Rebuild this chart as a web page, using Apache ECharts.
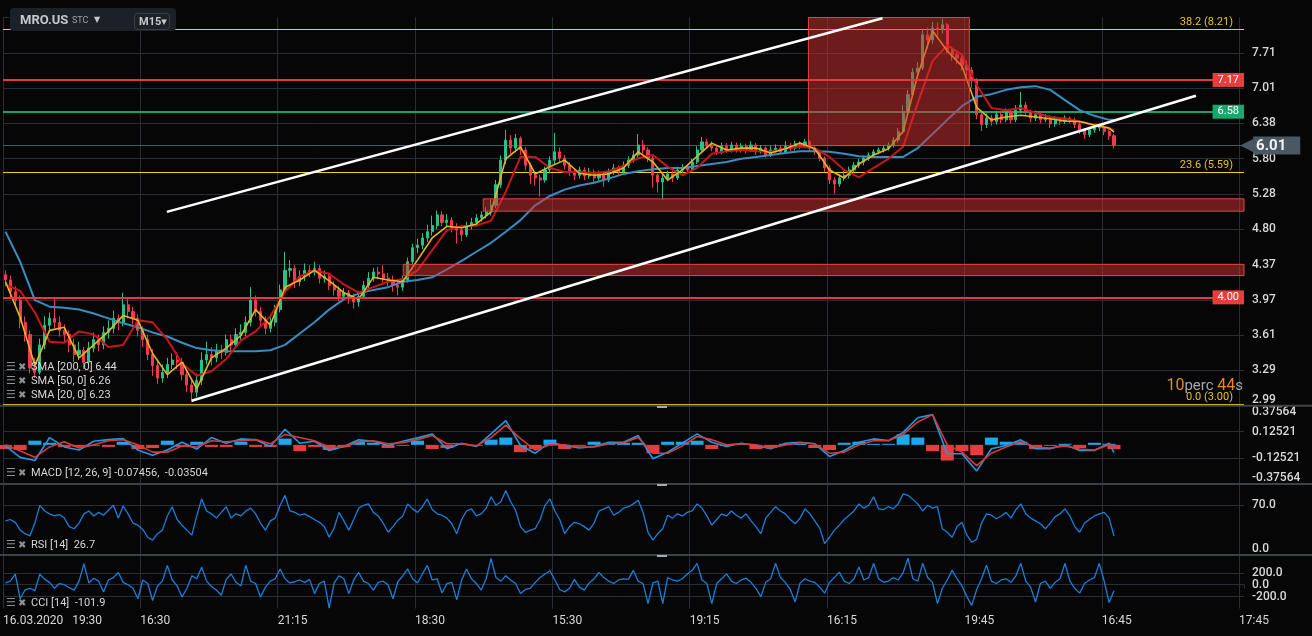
<!DOCTYPE html>
<html><head><meta charset="utf-8">
<script src="https://cdn.jsdelivr.net/npm/echarts@6/dist/echarts.min.js"></script>
<style>html,body{margin:0;padding:0;background:#060606;overflow:hidden}#c{width:1312px;height:636px}</style>
</head><body><div id="c"></div>
<script>
// ---------------- DATA ----------------
const timeLabels = ['16.03.2020   19:30','16:30','21:15','18:30','15:30','19:15','16:15','19:45','16:45','17:45'];
const priceTicks = ['2.99','3.29','3.61','3.97','4.37','4.80','5.28','5.80','6.38','7.01','7.71'];

const firstOpen = 4.25;
const closeP = [
4.19,4.06,3.97,3.74,3.62,3.31,3.27,3.52,3.71,3.78,
3.74,3.66,3.62,3.52,3.43,3.47,3.36,3.49,3.57,3.52,
3.64,3.68,3.78,3.74,3.92,3.85,3.78,3.66,3.57,3.43,
3.33,3.22,3.27,3.34,3.38,3.36,3.25,3.16,3.10,3.20,
3.38,3.43,3.40,3.47,3.45,3.57,3.52,3.62,3.64,3.74,
3.97,3.85,3.76,3.68,3.74,3.87,4.08,4.30,4.32,4.17,
4.23,4.30,4.28,4.32,4.21,4.23,4.13,4.08,4.01,4.05,
3.99,3.95,4.01,4.13,4.21,4.28,4.26,4.21,4.19,4.13,
4.11,4.19,4.40,4.57,4.60,4.69,4.77,4.85,4.99,4.89,
4.92,4.82,4.79,4.73,4.85,4.89,4.95,4.99,5.03,5.12,
5.41,5.78,6.10,5.97,6.13,5.94,5.70,5.55,5.51,5.48,
5.63,5.78,5.91,5.81,5.70,5.60,5.55,5.63,5.54,5.60,
5.51,5.57,5.48,5.60,5.66,5.60,5.70,5.78,5.86,6.02,
5.94,5.81,5.55,5.45,5.51,5.57,5.51,5.63,5.66,5.63,
5.75,5.94,6.07,6.02,5.97,5.91,6.00,5.94,6.02,5.94,
6.00,5.94,6.02,5.92,5.97,5.86,5.94,5.97,5.91,6.00,
5.97,6.04,6.00,6.07,5.97,5.91,5.81,5.66,5.48,5.42,
5.51,5.55,5.63,5.70,5.75,5.81,5.86,5.91,5.94,5.97,
6.02,6.10,6.24,6.58,6.89,7.32,7.40,8.09,7.98,8.24,
8.20,8.31,7.77,7.67,7.60,7.46,7.36,7.17,6.53,6.36,
6.47,6.41,6.53,6.44,6.58,6.44,6.61,6.70,6.58,6.47,
6.53,6.44,6.47,6.37,6.44,6.41,6.47,6.44,6.36,6.27,
6.19,6.27,6.30,6.32,6.24,6.17,6.01];
const highP = [
4.30,4.24,4.12,4.02,3.80,3.66,3.40,3.58,3.80,3.84,
3.98,3.80,3.72,3.66,3.58,3.55,3.50,3.55,3.64,3.62,
3.70,3.76,3.86,3.82,4.05,3.98,3.90,3.82,3.70,3.62,
3.48,3.38,3.34,3.40,3.44,3.45,3.40,3.28,3.20,3.26,
3.45,3.55,3.50,3.53,3.52,3.62,3.62,3.68,3.72,3.80,
4.11,4.02,3.90,3.80,3.80,3.92,4.14,4.52,4.42,4.36,
4.30,4.38,4.36,4.40,4.36,4.30,4.27,4.18,4.12,4.10,
4.08,4.04,4.07,4.18,4.28,4.33,4.34,4.36,4.27,4.24,
4.17,4.24,4.45,4.62,4.68,4.75,4.86,4.98,5.05,5.04,
5.00,4.96,4.88,4.84,4.90,4.95,5.00,5.04,5.10,5.20,
5.48,5.85,6.27,6.18,6.20,6.16,5.98,5.74,5.60,5.56,
5.68,5.84,6.22,5.98,5.86,5.75,5.64,5.68,5.67,5.66,
5.64,5.62,5.60,5.65,5.72,5.70,5.76,5.84,5.93,6.20,
6.10,5.98,5.85,5.58,5.56,5.62,5.62,5.68,5.72,5.70,
5.80,6.00,6.15,6.12,6.08,6.02,6.06,6.05,6.07,6.06,
6.05,6.04,6.08,6.05,6.02,6.00,6.00,6.03,6.02,6.08,
6.05,6.09,6.08,6.12,6.10,6.00,5.94,5.84,5.70,5.52,
5.56,5.62,5.68,5.75,5.80,5.85,5.90,5.95,5.98,6.02,
6.06,6.15,6.30,6.70,6.98,7.40,7.52,8.20,8.25,8.38,
8.36,8.45,8.35,7.84,7.72,7.66,7.55,7.42,7.20,6.58,
6.55,6.52,6.60,6.58,6.64,6.62,6.70,6.94,6.76,6.62,
6.60,6.58,6.54,6.52,6.50,6.48,6.52,6.50,6.48,6.40,
6.30,6.32,6.36,6.38,6.36,6.28,6.20];
const lowP = [
4.12,4.00,3.90,3.68,3.55,3.26,3.22,3.25,3.48,3.66,
3.68,3.60,3.55,3.45,3.36,3.38,3.30,3.33,3.45,3.46,
3.48,3.58,3.63,3.66,3.70,3.78,3.72,3.60,3.50,3.38,
3.24,3.17,3.18,3.22,3.30,3.30,3.20,3.10,3.02,3.06,
3.16,3.34,3.33,3.36,3.39,3.42,3.47,3.49,3.57,3.60,
3.70,3.80,3.70,3.62,3.64,3.70,3.84,4.05,4.22,4.10,
4.12,4.18,4.22,4.24,4.15,4.16,4.08,4.02,3.96,3.97,
3.93,3.88,3.90,3.98,4.09,4.17,4.20,4.16,4.12,4.06,
4.02,4.07,4.16,4.36,4.50,4.55,4.64,4.72,4.80,4.84,
4.84,4.76,4.62,4.65,4.70,4.80,4.84,4.90,4.94,4.98,
5.08,5.36,5.72,5.88,5.90,5.86,5.62,5.42,5.40,5.24,
5.44,5.58,5.72,5.74,5.64,5.54,5.48,5.50,5.48,5.50,
5.44,5.46,5.38,5.45,5.56,5.55,5.57,5.66,5.74,5.82,
5.88,5.75,5.37,5.30,5.20,5.46,5.45,5.48,5.58,5.57,
5.60,5.72,5.90,5.96,5.92,5.86,5.87,5.90,5.90,5.90,
5.90,5.89,5.91,5.86,5.88,5.82,5.83,5.90,5.87,5.88,
5.92,5.93,5.95,5.97,5.92,5.86,5.76,5.60,5.42,5.28,
5.38,5.47,5.50,5.60,5.66,5.70,5.77,5.82,5.87,5.90,
5.93,5.98,6.06,6.20,6.52,6.84,7.20,7.36,7.80,7.90,
8.05,8.12,7.70,7.55,7.48,7.35,7.24,7.02,6.45,6.25,
6.30,6.34,6.36,6.38,6.40,6.38,6.40,6.56,6.52,6.40,
6.42,6.38,6.40,6.30,6.32,6.35,6.37,6.38,6.30,6.20,
6.12,6.15,6.22,6.25,6.18,6.10,5.96];

// indicator sample positions (candle index)
const smaIdx = [0,3,6,9,12,15,18,21,24,27,30,33,36,39,42,45,48,51,54,57,60,63,66,69,72,75,78,81,84,87,90,93,96,99,102,105,108,111,114,117,120,123,126,129,132,135,138,141,144,147,150,153,156,159,162,165,168,171,174,177,180,183,186,189,192,195,198,201,204,207,210,213,216,219,222,225,226];
const sma20P = [
4.17,3.79,3.33,3.66,3.69,3.40,3.52,3.65,3.81,3.76,
3.44,3.25,3.36,3.13,3.40,3.49,3.61,3.87,3.71,4.11,
4.19,4.30,4.18,4.05,3.98,4.22,4.19,4.17,4.42,4.69,
4.84,4.82,4.87,5.03,5.80,5.99,5.57,5.68,5.78,5.58,
5.55,5.57,5.66,5.91,5.75,5.48,5.63,5.84,6.05,5.94,
5.97,5.97,5.89,5.96,6.05,5.96,5.63,5.51,5.72,5.86,
5.96,6.24,7.27,8.18,7.75,7.44,6.66,6.44,6.49,6.52,
6.49,6.46,6.42,6.41,6.35,6.30,6.23];
const sma50P = [
4.14,4.07,3.84,3.55,3.54,3.65,3.62,3.50,3.52,3.76,
3.74,3.57,3.35,3.24,3.28,3.39,3.56,3.65,3.80,4.06,
4.23,4.30,4.26,4.14,4.05,4.11,4.17,4.20,4.30,4.54,
4.79,4.84,4.85,4.91,5.31,5.83,5.83,5.66,5.60,5.60,
5.58,5.61,5.69,5.81,5.86,5.68,5.55,5.66,5.88,5.92,
5.94,5.92,5.91,5.96,5.99,5.97,5.83,5.63,5.52,5.66,
5.80,5.99,6.74,7.54,7.87,7.67,7.07,6.65,6.61,6.65,
6.56,6.49,6.46,6.41,6.35,6.30,6.26];
const sma200P = [
4.77,4.40,3.97,3.90,3.89,3.87,3.83,3.78,3.73,3.69,
3.64,3.60,3.54,3.49,3.47,3.46,3.46,3.46,3.47,3.52,
3.63,3.74,3.87,3.98,4.04,4.08,4.11,4.17,4.19,4.22,
4.31,4.41,4.52,4.63,4.77,4.92,5.12,5.25,5.34,5.40,
5.44,5.50,5.57,5.61,5.64,5.66,5.66,5.69,5.72,5.75,
5.80,5.83,5.86,5.89,5.92,5.92,5.91,5.88,5.84,5.83,
5.83,5.83,5.97,6.20,6.44,6.68,6.85,6.90,6.98,7.03,
7.05,6.98,6.79,6.61,6.51,6.44,6.44];
const macdV = [
-0.01,-0.12,-0.15,0.07,-0.02,-0.05,0.035,0.05,0.06,-0.05,
-0.10,-0.05,0.025,-0.04,0.07,0.016,0.057,0.048,-0.016,0.15,
0.016,0.035,-0.054,-0.016,0.048,0.035,-0.006,0.035,0.067,0.105,
-0.038,0.016,-0.016,0.105,0.232,-0.006,-0.08,0.025,-0.006,-0.029,
-0.016,0.025,0.025,0.089,-0.133,-0.07,0.016,0.105,0.025,-0.016,
0.016,-0.006,-0.038,0.016,0.025,0.01,-0.111,-0.054,0.025,0.057,
0.041,0.12,0.26,0.29,-0.086,-0.086,-0.25,-0.038,-0.006,0.048,
-0.038,-0.038,0.003,-0.054,-0.054,0.016,-0.07456];
const signalV = [
0.00,-0.06,-0.12,-0.02,0.03,-0.03,0.00,0.04,0.05,0.00,
-0.07,-0.07,-0.01,-0.02,0.04,0.03,0.04,0.05,0.01,0.10,
0.07,0.04,-0.02,-0.02,0.03,0.04,0.01,0.02,0.05,0.09,
0.01,0.01,-0.01,0.07,0.19,0.06,-0.05,0.00,0.00,-0.02,
-0.02,0.01,0.02,0.07,-0.08,-0.08,-0.01,0.08,0.05,0.00,
0.01,0.00,-0.03,0.00,0.02,0.01,-0.08,-0.07,0.00,0.04,
0.04,0.10,0.22,0.29,0.00,-0.07,-0.20,-0.08,-0.02,0.03,
-0.02,-0.03,-0.01,-0.04,-0.05,0.00,-0.03504];
const histV = [
-0.04,-0.05,0.04,0.02,-0.02,-0.02,-0.01,-0.02,0.03,-0.04,
-0.03,0.04,-0.02,0.03,-0.02,-0.02,0.03,-0.02,-0.02,0.06,
-0.06,-0.02,-0.05,-0.02,0.03,0.02,-0.03,-0.01,0.04,-0.04,
-0.03,0.01,-0.01,0.05,0.07,-0.07,-0.04,0.05,-0.04,-0.01,
0.03,0.01,0.02,0.02,-0.08,0.03,0.03,0.04,-0.04,-0.01,
0.01,-0.04,-0.03,0.01,0.01,-0.03,-0.05,0.02,0.03,0.01,
0.01,0.10,0.07,-0.06,-0.15,-0.06,-0.10,0.07,0.03,0.03,
-0.04,-0.01,0.01,-0.03,0.02,0.01,-0.04];
const rsiV = [
48,50,46,35,30,27,45,70,62,58,
55,57,52,40,37,45,58,62,55,60,
56,63,70,52,69,58,45,42,36,25,
21,30,35,55,68,50,42,35,28,55,
79,62,58,52,60,68,52,58,55,62,
66,58,45,35,48,52,70,84,62,60,
56,58,54,50,46,40,25,38,60,48,
35,50,66,70,72,60,55,45,32,40,
49,55,72,65,60,68,79,64,58,56,
52,44,30,50,62,65,55,58,66,82,
70,75,91,75,63,40,32,35,37,50,
70,79,62,50,30,40,46,44,40,35,
45,62,65,68,56,60,66,68,72,77,
60,32,21,30,37,56,52,58,55,60,
62,72,66,55,42,50,58,55,62,56,
52,58,48,40,30,52,60,68,62,58,
50,44,52,65,58,48,38,16,25,35,
42,50,56,62,72,66,70,82,65,64,
68,65,72,86,84,78,72,62,70,66,
68,37,32,25,40,46,28,18,22,45,
58,56,51,55,60,52,64,72,58,52,
48,44,37,45,54,58,65,55,40,32,
45,50,55,58,60,52,26.7];
const cciV = [
30,60,177,-236,-88,-60,-100,177,90,40,
-60,20,0,-50,-90,60,354,30,110,60,
-120,80,120,206,40,0,-60,-236,80,20,
-265,-20,60,325,80,-20,-206,-60,150,100,
295,60,-30,-90,-177,90,180,40,-20,325,
60,20,-206,-40,60,100,265,100,30,50,
80,40,90,-150,20,60,-395,30,150,100,
-150,80,206,60,20,-90,40,60,0,-236,
50,150,265,100,30,180,325,80,100,-140,
20,40,-254,80,265,100,20,-90,100,443,
120,60,150,80,20,-148,-80,-60,40,120,
180,236,80,-80,-120,-60,90,-40,-90,30,
100,206,120,60,20,80,100,90,242,60,
20,-318,30,60,-318,120,80,60,100,180,
242,360,80,20,-318,20,100,183,60,20,
80,110,40,-60,-200,40,100,360,120,40,
-80,-290,30,100,60,40,-40,-142,40,120,
212,60,20,100,300,80,120,360,100,40,
60,120,80,200,448,100,60,360,120,40,
-318,-60,80,242,100,-20,-200,-348,-80,100,
330,60,20,80,100,40,150,360,60,-40,
-290,20,60,-60,40,100,360,60,-60,-142,
20,80,120,360,60,-300,-101.9];

// drawings (x in candle-slot units, y in price)
const fibPct = [38.2, 23.6, 0.0];
const fibPrice = [8.21, 5.59, 3.00];
const redLevels = [7.17, 4.00];
const greenLevels = [6.58];
const lastPrice = 6.01;
const zoneStart = [164.2, 97.9, 81.6];
const zoneEnd = [197.0, 253, 253];
const zoneHigh = [8.48, 5.21, 4.37];
const zoneLow = [6.01, 5.04, 4.24];
const trendUpX = [33.4, 179.3], trendUpP = [5.03, 8.46];
const trendLoX = [38.47, 243.2], trendLoP = [3.03, 6.87];

// ---------------- BUILD ----------------
const SLOTS = 253, TSTEP = 28;
const R = Math.pow(7.71 / 2.99, 1 / 10);
const U = p => Math.log(p / 2.99) / Math.log(R);
const MS = 0.1252133;
const FONT = 'Roboto, "Noto Sans", "DejaVu Sans", sans-serif';
const GRID_C = '#272e35';
const LBL = '#d8d8d8';

const openP = [firstOpen].concat(closeP.slice(0, -1));
const candleData = closeP.map((c, i) => [i + 0.5, U(openP[i]), U(c), U(lowP[i]), U(highP[i])]);
const priceLine = arr => smaIdx.map((k, j) => [k + 0.5, U(arr[j])]);
const indLine = arr => smaIdx.map((k, j) => [k + 0.5, arr[j]]);
const perCandle = arr => arr.map((v, i) => [i + 0.5, v]);
const last = a => a[a.length - 1];

const grids = [
  {left: 3, right: 68, top: 17.5, height: 388.2},
  {left: 3, right: 68, top: 405.7, height: 78.3},
  {left: 3, right: 68, top: 484, height: 71},
  {left: 3, right: 68, top: 555, height: 53.5}
];

const xAxes = [0, 1, 2, 3].map(k => ({
  type: 'value', gridIndex: k, min: 0, max: SLOTS, interval: TSTEP,
  axisLine: {show: k === 3, lineStyle: {color: '#2f363e'}},
  axisTick: {show: k === 3, length: 4, lineStyle: {color: GRID_C}},
  axisLabel: {show: k === 3, align: 'left', margin: 6, color: LBL, fontSize: 12, fontFamily: FONT,
    formatter: v => (v % TSTEP === 0 && timeLabels[v / TSTEP]) ? timeLabels[v / TSTEP] : ''},
  splitLine: {show: true, showMaxLine: false, lineStyle: {color: GRID_C, width: 1}}
}));

const yLabelBase = {color: LBL, fontSize: 12, fontFamily: FONT, fontWeight: 500, margin: 8, lineHeight: 12};
const yAxes = [
  {gridIndex: 0, type: 'value', position: 'right', min: 0, max: 11, interval: 1,
    axisLine: {show: false}, axisTick: {show: true, length: 6, lineStyle: {color: GRID_C}},
    axisLabel: Object.assign({}, yLabelBase, {formatter: v => v === 0 ? priceTicks[0] + '\n' : (priceTicks[v] || '')}),
    splitLine: {show: true, showMaxLine: false, lineStyle: {color: GRID_C}}},
  {gridIndex: 1, type: 'value', position: 'right', min: -3 * MS, max: 3 * MS, interval: MS,
    axisLine: {show: false}, axisTick: {show: false},
    axisLabel: Object.assign({}, yLabelBase, {formatter: v => {
      const k = Math.round(v / MS); const s = (k * MS).toFixed(5);
      if (k === 3) return '\n' + s; if (k === -3) return s + '\n';
      if (k === 1 || k === -1) return s; return ''; }}),
    splitLine: {show: false}},
  {gridIndex: 2, type: 'value', position: 'right', min: 0, max: 100, interval: 70,
    axisLine: {show: false}, axisTick: {show: false},
    axisLabel: Object.assign({}, yLabelBase, {formatter: v => v === 0 ? '0.0\n' : (v === 70 ? '70.0' : '')}),
    splitLine: {show: true, showMinLine: false, showMaxLine: false, lineStyle: {color: GRID_C}}},
  {gridIndex: 3, type: 'value', position: 'right', min: -400, max: 500, interval: 200,
    axisLine: {show: false}, axisTick: {show: false},
    axisLabel: Object.assign({}, yLabelBase, {formatter: v => (v === 200 || v === 0 || v === -200) ? v.toFixed(1) : ''}),
    splitLine: {show: false}}
];

const noLabel = {show: false};
const gridMark = v => ({yAxis: v, lineStyle: {color: GRID_C, width: 1, type: 'solid'}, label: noLabel});

const underLines = [];
fibPct.forEach((pct, i) => underLines.push({
  yAxis: U(fibPrice[i]), lineStyle: {color: '#f0d21a', width: 1.2, type: 'solid'},
  label: {show: true, position: 'insideEndTop', distance: [11, 2], color: '#e4c51c', fontSize: 11, fontFamily: FONT,
    formatter: pct.toFixed(1) + ' (' + fibPrice[i].toFixed(2) + ')'}
}));
greenLevels.forEach(p => underLines.push({
  yAxis: U(p), lineStyle: {color: '#14a56c', width: 2, type: 'solid'},
  label: {show: true, position: 'insideEnd', distance: 0, formatter: p.toFixed(2), color: '#ffffff', fontSize: 11,
    fontFamily: FONT, backgroundColor: '#16a86f', padding: [2, 5, 1, 5]}
}));
underLines.push({
  yAxis: U(lastPrice), lineStyle: {color: '#4b5965', width: 1, type: 'solid'},
  label: {show: true, position: 'end', distance: [-4, 0], formatter: '{a|◀}{b|' + lastPrice.toFixed(2) + '}',
    rich: {a: {color: '#4a5863', fontSize: 17, fontFamily: '"DejaVu Sans"', padding: [0, 0, 0, 0]},
      b: {color: '#f2f2f2', fontSize: 15, fontWeight: 'bold', fontFamily: FONT, backgroundColor: '#4a5863',
        padding: [2, 14, 1, 3], height: 15}}}
});

const overLines = [];
redLevels.forEach(p => overLines.push({
  yAxis: U(p), lineStyle: {color: '#e53a3a', width: 2, type: 'solid'},
  label: {show: true, position: 'insideEnd', distance: 0, formatter: p.toFixed(2), color: '#ffffff', fontSize: 11,
    fontFamily: FONT, backgroundColor: '#e63d3d', padding: [2, 5, 1, 5]}
}));
[[trendUpX, trendUpP], [trendLoX, trendLoP]].forEach(([xs, ps]) => overLines.push([
  {coord: [xs[0], U(ps[0])], lineStyle: {color: '#ffffff', width: 2.5, type: 'solid'}, label: noLabel},
  {coord: [xs[1], U(ps[1])]}
]));

const zones = zoneStart.map((x0, i) => [{xAxis: x0, yAxis: U(zoneHigh[i])}, {xAxis: zoneEnd[i], yAxis: U(zoneLow[i])}]);

const series = [
  {type: 'line', name: 'levelsUnder', xAxisIndex: 0, yAxisIndex: 0, data: [], z: 1, silent: true,
    markLine: {z: 1, silent: true, animation: false, symbol: ['none', 'none'], data: underLines}},
  {type: 'candlestick', xAxisIndex: 0, yAxisIndex: 0, data: candleData, z: 2, barWidth: 2.6, silent: true,
    itemStyle: {color: '#27c285', color0: '#f23a4f', borderColor: '#27c285', borderColor0: '#f23a4f', borderWidth: 1}},
  {type: 'line', name: 'SMA200', xAxisIndex: 0, yAxisIndex: 0, data: priceLine(sma200P), z: 3, symbol: 'none',
    lineStyle: {color: '#3a8dc0', width: 2}, silent: true},
  {type: 'line', name: 'SMA50', xAxisIndex: 0, yAxisIndex: 0, data: priceLine(sma50P), z: 3, symbol: 'none',
    lineStyle: {color: '#c9161c', width: 2}, silent: true},
  {type: 'line', name: 'SMA20', xAxisIndex: 0, yAxisIndex: 0, data: priceLine(sma20P), z: 3, symbol: 'none',
    lineStyle: {color: '#e6b521', width: 1.6}, silent: true},
  {type: 'line', name: 'zones', xAxisIndex: 0, yAxisIndex: 0, data: [], z: 4, silent: true,
    markArea: {z: 4, silent: true, animation: false,
      itemStyle: {color: 'rgba(214,48,48,0.5)', borderColor: '#e4433f', borderWidth: 1}, data: zones}},
  {type: 'line', name: 'levelsOver', xAxisIndex: 0, yAxisIndex: 0, data: [], z: 5, silent: true,
    markLine: {z: 5, silent: true, animation: false, symbol: ['none', 'none'], data: overLines}},
  // MACD
  {type: 'bar', xAxisIndex: 1, yAxisIndex: 1, data: indLine(histV), barWidth: 13, z: 2, silent: true,
    itemStyle: {color: p => p.value[1] >= 0 ? '#1ba8ee' : '#e83a3f'}},
  {type: 'line', xAxisIndex: 1, yAxisIndex: 1, data: indLine(macdV), symbol: 'none', z: 3, silent: true,
    lineStyle: {color: '#1f9be6', width: 1.6},
    markLine: {z: 1, silent: true, animation: false, symbol: ['none', 'none'], data: [gridMark(MS), gridMark(-MS)]}},
  {type: 'line', xAxisIndex: 1, yAxisIndex: 1, data: indLine(signalV), symbol: 'none', z: 3, silent: true,
    lineStyle: {color: '#d93a3a', width: 1.6}},
  // RSI
  {type: 'line', xAxisIndex: 2, yAxisIndex: 2, data: perCandle(rsiV), symbol: 'none', z: 3, silent: true,
    lineStyle: {color: '#1b7fdb', width: 1.3}},
  // CCI
  {type: 'line', xAxisIndex: 3, yAxisIndex: 3, data: perCandle(cciV), symbol: 'none', z: 3, silent: true,
    lineStyle: {color: '#1b7fdb', width: 1.3},
    markLine: {z: 1, silent: true, animation: false, symbol: ['none', 'none'], data: [gridMark(200), gridMark(0), gridMark(-200)]}}
];

// static chrome (header, separators, indicator captions)
const icon = y => [
  {type: 'text', x: 6, y: y, z: 50, style: {text: '☰', fill: '#8c9196', font: '11px "DejaVu Sans"', verticalAlign: 'middle'}},
  {type: 'text', x: 18, y: y, z: 50, style: {text: '✖', fill: '#8c9196', font: '10px "DejaVu Sans"', verticalAlign: 'middle'}}
];
const caption = (y, text) => icon(y).concat([{type: 'text', x: 31, y: y, z: 50,
  style: {text: text, fill: '#d6d6d6', font: '11px ' + FONT, verticalAlign: 'middle'}}]);
const sepLine = y => ({type: 'line', z: 20, shape: {x1: 0, y1: y, x2: 1312, y2: y}, style: {stroke: '#3a434b', lineWidth: 2}});
const handle = y => ({type: 'rect', z: 21, shape: {x: 657, y: y - 1, width: 10, height: 2}, style: {fill: '#a8a8a8'}});

let graphics = [
  sepLine(405.7), sepLine(484), sepLine(555),
  handle(407), handle(485), handle(556),
  {type: 'rect', z: 30, shape: {x: 10, y: 8, width: 166, height: 23, r: 4}, style: {fill: '#1b2227'}},
  {type: 'text', z: 31, x: 20, y: 21, style: {text: 'MRO.US', fill: '#c4c8cc', font: 'bold 13px ' + FONT, verticalAlign: 'middle'}},
  {type: 'text', z: 31, x: 72, y: 21, style: {text: 'STC', fill: '#98a0a6', font: '9px ' + FONT, verticalAlign: 'middle'}},
  {type: 'text', z: 31, x: 94, y: 20, style: {text: '▼', fill: '#c4c8cc', font: '8px "DejaVu Sans"', verticalAlign: 'middle'}},
  {type: 'rect', z: 31, shape: {x: 134.5, y: 13.5, width: 35, height: 16, r: 3}, style: {fill: '#1b2227', stroke: '#394148', lineWidth: 1}},
  {type: 'text', z: 32, x: 139, y: 22, style: {text: 'M15▾', fill: '#c4c8cc', font: 'bold 11px ' + FONT, verticalAlign: 'middle'}},
  {type: 'text', z: 32, x: 1243, y: 386, style: {text: '{n|10}{t|perc }{n|44}{t|s}', align: 'right', verticalAlign: 'middle',
    rich: {n: {fill: '#e8891c', fontSize: 16, fontFamily: FONT}, t: {fill: '#a3a9ae', fontSize: 15, fontFamily: FONT}}}}
];
graphics = graphics
  .concat(caption(367, 'SMA [200, 0] ' + last(sma200P).toFixed(2)))
  .concat(caption(381.5, 'SMA [50, 0] ' + last(sma50P).toFixed(2)))
  .concat(caption(395, 'SMA [20, 0] ' + last(sma20P).toFixed(2)))
  .concat(caption(473, 'MACD [12, 26, 9] ' + last(macdV).toFixed(5) + ',  ' + last(signalV).toFixed(5)))
  .concat(caption(545, 'RSI [14]  ' + last(rsiV).toFixed(1)))
  .concat(caption(603, 'CCI [14]  ' + last(cciV).toFixed(1)));

const chart = echarts.init(document.getElementById('c'), null, {renderer: 'canvas'});
chart.setOption({
  backgroundColor: '#060606',
  animation: false,
  textStyle: {fontFamily: FONT},
  grid: grids,
  xAxis: xAxes,
  yAxis: yAxes,
  series: series,
  graphic: graphics
});
</script>
</body></html>
